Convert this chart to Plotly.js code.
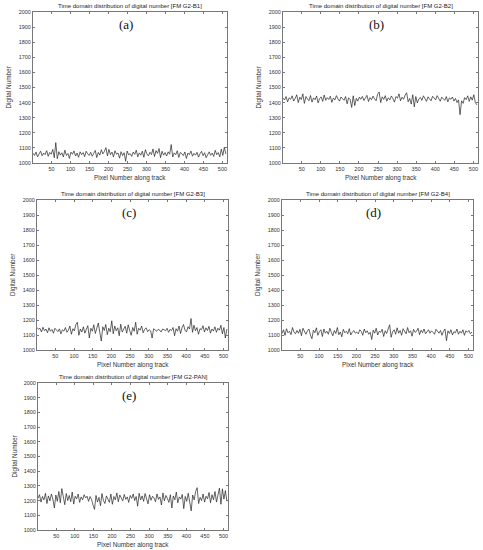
<!DOCTYPE html>
<html>
<head>
<meta charset="utf-8">
<script src="https://cdn.plot.ly/plotly-3.0.1.min.js"></script>
<style>
  html, body { margin: 0; padding: 0; background: #fff; }
  #chart { width: 483px; height: 550px; }
</style>
</head>
<body>
<div id="chart"></div>
<script>
// one value every 4th pixel along track, starting at pixel 1
var pixelStart = 1
var pixelStep = 4

var bandNames = ['FM G2-B1', 'FM G2-B2', 'FM G2-B3', 'FM G2-B4', 'FM G2-PAN']
var panelLetters = ['(a)', '(b)', '(c)', '(d)', '(e)']

var dnB1 = [
  1065, 1050, 1072, 1041, 1060, 1078, 1048, 1066, 1055, 1082,
  1044, 1070, 1058, 1090, 1035, 1135, 1028, 1075, 1052, 1068,
  1040, 1085, 1050, 1063, 1030, 1072, 1058, 1080, 1046, 1066,
  1038, 1074, 1055, 1069, 1042, 1078, 1061, 1050, 1071, 1045,
  1064, 1083, 1036, 1070, 1052, 1088, 1060, 1076, 1102, 1047,
  1090, 1055, 1072, 1040, 1081, 1058, 1066, 1032, 1075, 1049,
  1068, 1012, 1079, 1054, 1062, 1044, 1073, 1057, 1085, 1041,
  1067, 1052, 1078, 1038, 1088, 1060, 1047, 1071, 1056, 1093,
  1043, 1082, 1064, 1096, 1035, 1078, 1052, 1069, 1046, 1074,
  1058, 1122, 1040, 1067, 1055, 1081, 1037, 1070, 1061, 1049,
  1073, 1030, 1066, 1056, 1079, 1045, 1064, 1052, 1071, 1039,
  1062, 1077, 1048, 1068, 1035, 1059, 1074, 1051, 1066, 1043,
  1084, 1055, 1069, 1041, 1092, 1050, 1104, 1060
]

var dnB2 = [
  1430, 1418, 1440, 1405, 1432, 1422, 1445, 1410, 1428, 1452,
  1400, 1436, 1420, 1458, 1395, 1440, 1425, 1412, 1447, 1403,
  1431, 1419, 1444, 1398, 1427, 1438, 1408, 1450, 1415, 1433,
  1421, 1442, 1402, 1430, 1418, 1446, 1424, 1410, 1437, 1426,
  1415, 1440, 1392, 1432, 1420, 1368, 1445, 1380, 1428, 1410,
  1436, 1422, 1441, 1414, 1429, 1448, 1407, 1433, 1419, 1443,
  1425, 1412, 1455, 1470, 1400, 1438, 1421, 1446, 1409, 1432,
  1418, 1444, 1426, 1403, 1440, 1430, 1458, 1412, 1436, 1422,
  1449, 1465, 1405, 1428, 1390, 1452, 1372, 1440, 1398, 1425,
  1434, 1415, 1445, 1420, 1408, 1438, 1427, 1412, 1442, 1430,
  1418, 1446, 1423, 1409, 1436, 1428, 1415, 1440, 1405, 1431,
  1422, 1437, 1410, 1428, 1400, 1418, 1320, 1412, 1395, 1433,
  1420, 1445, 1408, 1438, 1416, 1452, 1400, 1385
]

var dnB3 = [
  1150, 1138, 1145, 1120, 1152, 1128, 1140, 1115, 1148, 1125,
  1137, 1112, 1145, 1130, 1122, 1141, 1108, 1135, 1126, 1150,
  1118, 1132, 1160, 1105, 1142, 1127, 1170, 1185, 1098, 1140,
  1120, 1155, 1112, 1138, 1162, 1080, 1145, 1125, 1168, 1110,
  1150, 1180, 1118, 1060, 1155, 1130, 1170, 1102, 1145, 1122,
  1195, 1108, 1160, 1128, 1148, 1095, 1172, 1120, 1140, 1158,
  1112, 1168, 1130, 1098, 1150, 1125, 1185, 1105, 1145, 1132,
  1160, 1115, 1138, 1148, 1122, 1135, 1128, 1080, 1142, 1130,
  1125, 1138, 1132, 1120, 1140, 1135, 1128, 1145, 1118, 1137,
  1130, 1150, 1095, 1142, 1125, 1160, 1110, 1148, 1170, 1132,
  1120, 1155, 1140, 1210, 1118, 1165, 1128, 1150, 1105, 1142,
  1135, 1162, 1120, 1148, 1130, 1158, 1112, 1140, 1126, 1155,
  1118, 1145, 1132, 1165, 1108, 1150, 1080, 1140
]

var dnB4 = [
  1110, 1135, 1098, 1142, 1115, 1125, 1102, 1150, 1120, 1108,
  1130, 1112, 1138, 1095, 1145, 1118, 1105, 1128, 1140, 1100,
  1075, 1132, 1115, 1148, 1098, 1122, 1135, 1090, 1140, 1112,
  1125, 1105, 1145, 1118, 1095, 1130, 1110, 1150, 1102, 1120,
  1088, 1138, 1115, 1125, 1108, 1142, 1100, 1118, 1130, 1112,
  1120, 1108, 1135, 1125, 1098, 1140, 1115, 1128, 1105, 1118,
  1070, 1132, 1112, 1145, 1100, 1125, 1118, 1138, 1090, 1128,
  1110, 1140, 1168, 1085, 1122, 1135, 1105, 1148, 1112, 1130,
  1098, 1142, 1120, 1108, 1150, 1115, 1128, 1092, 1138, 1118,
  1125, 1145, 1102, 1132, 1115, 1140, 1108, 1122, 1135, 1112,
  1128, 1118, 1105, 1138, 1120, 1112, 1130, 1098, 1125, 1140,
  1062, 1128, 1110, 1135, 1100, 1122, 1115, 1140, 1105, 1125,
  1112, 1135, 1098, 1128, 1118, 1130, 1108, 1120
]

var dnPAN = [
  1215, 1240, 1190, 1228, 1205, 1250, 1180, 1232, 1198, 1245,
  1210, 1150, 1238, 1195, 1262, 1185, 1282, 1220, 1172, 1248,
  1200, 1235, 1192, 1258, 1176, 1230, 1212, 1245, 1188, 1225,
  1205, 1240, 1218, 1230, 1195, 1228, 1208, 1170, 1140, 1235,
  1190, 1222, 1165, 1248, 1200, 1180, 1232, 1210, 1188, 1245,
  1175, 1228, 1205, 1252, 1192, 1238, 1215, 1198, 1242, 1208,
  1225, 1188, 1235, 1215, 1245, 1200, 1228, 1162, 1250, 1205,
  1232, 1195, 1248, 1212, 1178, 1240, 1202, 1230, 1218, 1192,
  1245, 1208, 1225, 1170, 1252, 1198, 1235, 1215, 1188, 1240,
  1150, 1232, 1205, 1258, 1185, 1225, 1210, 1242, 1145, 1228,
  1195, 1250, 1175, 1130, 1238, 1205, 1262, 1288, 1180, 1222,
  1200, 1245, 1190, 1230, 1212, 1255, 1185, 1240, 1205, 1262,
  1190, 1248, 1285, 1175, 1280, 1210, 1268, 1195
]

var allBands = [dnB1, dnB2, dnB3, dnB4, dnPAN]

// plot boxes in page pixels: [left, right, top, bottom]
var boxes = [
  [33, 227, 12, 163],
  [283, 478, 12, 163],
  [37, 228, 200, 350],
  [282, 473, 200, 350],
  [38, 228, 383, 530]
]

var W = 483, H = 550
function fx(px) { return px / W }
function fy(py) { return 1 - py / H }

var tickFont = { family: 'Liberation Sans, Arial, sans-serif', size: 5.5, color: '#333' }
var labelFont = { family: 'Liberation Sans, Arial, sans-serif', size: 6.4, color: '#333' }

var data = []
var layout = {
  width: W,
  height: H,
  margin: { l: 0, r: 0, t: 0, b: 0 },
  paper_bgcolor: '#fff',
  plot_bgcolor: '#fff',
  showlegend: false,
  annotations: []
}

for (var k = 0; k < allBands.length; k++) {
  var n = k + 1
  var xa = 'xaxis' + (n == 1 ? '' : n)
  var ya = 'yaxis' + (n == 1 ? '' : n)
  var b = boxes[k]

  data.push({
    type: 'scatter',
    mode: 'lines',
    x0: pixelStart,
    dx: pixelStep,
    y: allBands[k],
    xaxis: 'x' + (n == 1 ? '' : n),
    yaxis: 'y' + (n == 1 ? '' : n),
    line: { color: '#222', width: 0.7 },
    hoverinfo: 'skip'
  })

  layout[xa] = {
    domain: [fx(b[0]), fx(b[1])],
    anchor: 'y' + (n == 1 ? '' : n),
    range: [1, 512],
    tick0: 50,
    dtick: 50,
    ticks: 'inside',
    ticklen: 2,
    tickcolor: '#777',
    showline: true,
    linecolor: '#777',
    linewidth: 1,
    mirror: 'ticks',
    showgrid: false,
    zeroline: false,
    tickfont: tickFont
  }
  layout[ya] = {
    domain: [fy(b[3]), fy(b[2])],
    anchor: 'x' + (n == 1 ? '' : n),
    range: [1000, 2000],
    tick0: 1000,
    dtick: 100,
    ticks: 'inside',
    ticklen: 2,
    tickcolor: '#777',
    showline: true,
    linecolor: '#777',
    linewidth: 1,
    mirror: 'ticks',
    showgrid: false,
    zeroline: false,
    tickfont: tickFont
  }

  var cx = (b[0] + b[1]) / 2
  // title above box
  layout.annotations.push({
    xref: 'paper', yref: 'paper',
    x: fx(cx), y: fy(b[2] - 1),
    xanchor: 'center', yanchor: 'bottom',
    text: 'Time domain distribution of digital number [' + bandNames[k] + ']',
    showarrow: false,
    font: { family: 'Liberation Sans, Arial, sans-serif', size: 6, color: '#222' }
  })
  // x axis title
  layout.annotations.push({
    xref: 'paper', yref: 'paper',
    x: fx(cx), y: fy(b[3] + 9),
    xanchor: 'center', yanchor: 'top',
    text: 'Pixel Number along track',
    showarrow: false,
    font: labelFont
  })
  // y axis title
  layout.annotations.push({
    xref: 'paper', yref: 'paper',
    x: fx(b[0] - 24), y: fy((b[2] + b[3]) / 2),
    xanchor: 'center', yanchor: 'middle',
    textangle: -90,
    text: 'Digital Number',
    showarrow: false,
    font: labelFont
  })
  // panel letter
  layout.annotations.push({
    xref: 'paper', yref: 'paper',
    x: fx(b[0] + (b[1] - b[0]) * 0.48), y: fy(b[2] + 3),
    xanchor: 'center', yanchor: 'top',
    text: panelLetters[k],
    showarrow: false,
    font: { family: 'Liberation Serif, Times New Roman, serif', size: 13, color: '#111' }
  })
}

Plotly.newPlot('chart', data, layout, { staticPlot: true })
</script>
</body>
</html>
